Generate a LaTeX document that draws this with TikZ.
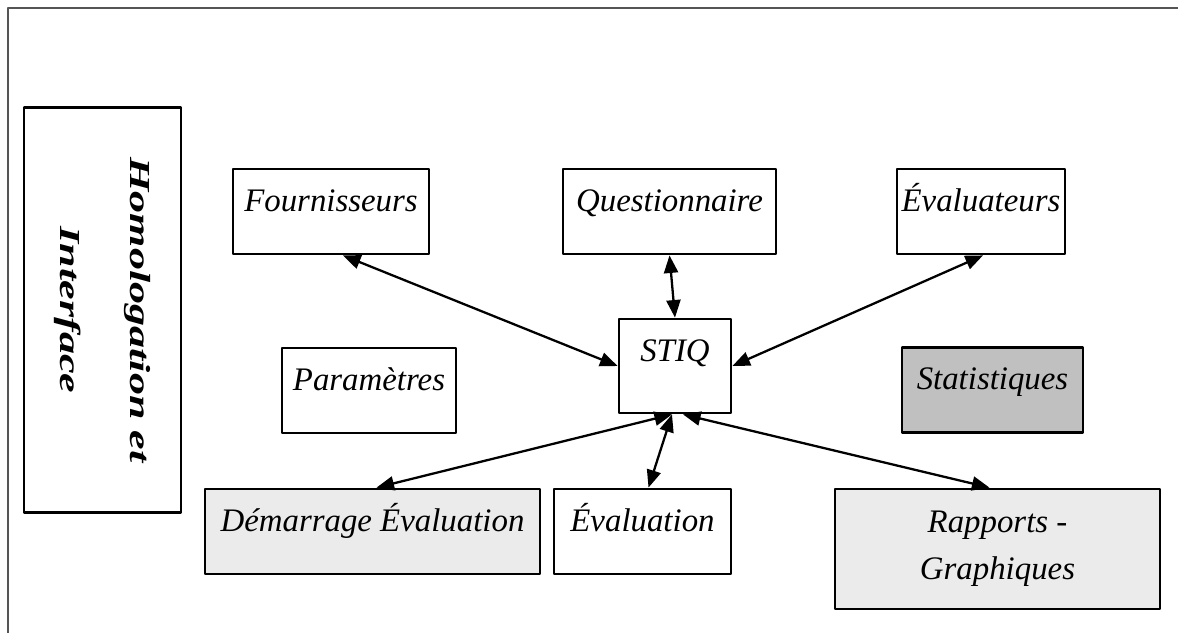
\documentclass[tikz,border=0pt]{standalone}
\usepackage{fontspec}
\setmainfont{Liberation Serif}
\usetikzlibrary{arrows.meta,calc}
\definecolor{khung}{HTML}{555555}
\definecolor{xamnhat}{HTML}{EBEBEB}
\definecolor{xamdam}{HTML}{C0C0C0}
\begin{document}
\begin{tikzpicture}[x=0.02cm,y=-0.02cm,line join=round,>={Triangle[length=10pt,width=8pt]},
	hop/.style={draw,line width=1.6pt,inner sep=0pt,font=\fontsize{18.7pt}{26.6pt}\selectfont\itshape},
	dong/.style={hop,text height=0.84cm,text depth=0.86cm},
	mui/.style={<->,line width=1.3pt}]
	\useasboundingbox (0,0) rectangle (1178,633);
	\draw[khung,line width=1pt] (1178,8)--(8,8)--(8,633); % khung ngoai
	\path 
	(102.5,310) node[hop,rotate=-90,xscale=1.52,minimum width=5.34cm,minimum height=3.14cm,align=center,
		font=\fontsize{16.5pt}{39.7pt}\selectfont\bfseries\itshape] (homol) {Homologation et\\Interface}
	(331,211.5) node[dong,minimum width=3.92cm] (four) {Fournisseurs}
	(669.5,211.5) node[dong,minimum width=4.26cm] (quest) {Questionnaire}
	(981,211.5) node[dong,minimum width=3.36cm] (evalr) {Évaluateurs}
	(369,390.5) node[dong,minimum width=3.48cm] (param) {Paramètres}
	(992.5,390) node[dong,fill=xamdam,minimum width=3.62cm] (stat) {Statistiques}
	(675,366) node[dong,text depth=1.04cm,minimum width=2.24cm] (stiq) {STIQ}
	(372.5,531.5) node[dong,fill=xamnhat,minimum width=6.7cm] (demar) {Démarrage Évaluation}
	(642.5,531.5) node[dong,minimum width=3.54cm] (evaln) {Évaluation}
	(997.5,549) node[hop,fill=xamnhat,align=center,minimum width=6.5cm,minimum height=2.4cm] (rapp) {Rapports -\\Graphiques}
	;
	\draw[mui] ($(four.south)+(12,0)$)--(stiq.west);
	\draw[mui] (quest.south)--(stiq.north);
	\draw[mui] ($(evalr.south)+(2,0)$)--(stiq.east);
	\draw[mui] ($(demar.north)+(4,0)$)--($(stiq.south)+(-3,0)$);
	\draw[mui] ($(evaln.north)+(6,0)$)--($(stiq.south)+(-3,0)$);
	\draw[mui] ($(rapp.north)+(-8,0)$)--($(stiq.south)+(8,0)$);
\end{tikzpicture}
\end{document}
